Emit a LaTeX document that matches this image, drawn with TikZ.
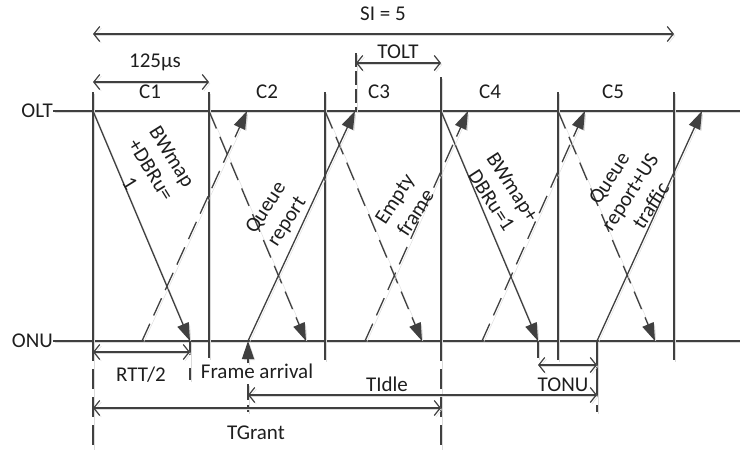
\documentclass[tikz,border=0pt]{standalone}
\usepackage{fontspec}
\setmainfont{Carlito}
\usetikzlibrary{arrows.meta}
\definecolor{ln}{HTML}{404040}
\definecolor{tx}{HTML}{1E1E1E}
\definecolor{shd}{HTML}{DADADA}
\begin{document}
\begin{tikzpicture}[x=1pt,y=-1pt,
  base/.style={draw=ln,line width=1.3pt,
    preaction={draw=shd,transform canvas={shift={(1.6pt,-1.6pt)}}}},
  sig/.style={base,-{Triangle[length=18pt,width=12pt]}},
  dsig/.style={sig,dash pattern=on 19pt off 9pt},
  dimarr/.style={base,line width=1.2pt,{Straight Barb[length=6pt,width=15pt]}-{Straight Barb[length=6pt,width=15pt]}},
  ext/.style={base,line width=1.1pt,dash pattern=on 20pt off 8pt},
  lbl/.style={text=tx,font=\fontsize{21}{25}\selectfont,inner sep=0pt},
  rlbl/.style={lbl,align=center},
]
\useasboundingbox (0,0) rectangle (740,450);

% time axes
\node[lbl,anchor=east] (olt) at (53,111) {OLT};
\node[lbl,anchor=east] (onu) at (53,341) {ONU};
\coordinate (oltE) at (740,111);
\coordinate (onuE) at (740,341);
\draw[base] (olt.east) -- (oltE);
\draw[base] (onu.east) -- (onuE);

% frame boundaries
\coordinate (t0) at (93,92);  \coordinate (b0) at (93,341);  \coordinate (e0) at (93,450);
\coordinate (t1) at (209,92); \coordinate (b1) at (209,358);
\coordinate (t2) at (325,92); \coordinate (b2) at (325,360);
\coordinate (t3) at (441,77); \coordinate (b3) at (441,341); \coordinate (e3) at (441,450);
\coordinate (t4) at (558,92); \coordinate (b4) at (558,360);
\coordinate (t5) at (674,92); \coordinate (b5) at (674,360);
\draw[base] (t0) -- (b0);
\draw[ext] (b0) -- (e0);
\draw[base] (t1) -- (b1);
\draw[base] (t2) -- (b2);
\draw[base] (t3) -- (b3);
\draw[ext] (b3) -- (e3);
\draw[base] (t4) -- (b4);
\draw[base] (t5) -- (b5);

% cycle labels
\node[lbl] (c1) at (150,92) {C1};
\node[lbl] (c2) at (267,92) {C2};
\node[lbl] (c3) at (379,92) {C3};
\node[lbl] (c4) at (490,92) {C4};
\node[lbl] (c5) at (613,92) {C5};

% downstream (OLT -> ONU)
\coordinate (d1s) at (93,111);  \coordinate (d1e) at (190,341);
\coordinate (d2s) at (209,111); \coordinate (d2e) at (306,341);
\coordinate (d3s) at (325,111); \coordinate (d3e) at (422,341);
\coordinate (d4s) at (441,111); \coordinate (d4e) at (538,341);
\coordinate (d5s) at (558,111); \coordinate (d5e) at (655,341);
\draw[sig] (d1s) -- (d1e);
\draw[dsig] (d2s) -- (d2e);
\draw[dsig] (d3s) -- (d3e);
\draw[sig] (d4s) -- (d4e);
\draw[dsig] (d5s) -- (d5e);

% upstream (ONU -> OLT)
\coordinate (u1s) at (142,341); \coordinate (u1e) at (247,111);
\coordinate (u2s) at (248,341); \coordinate (u2e) at (355,111);
\coordinate (u3s) at (365,341); \coordinate (u3e) at (468,111);
\coordinate (u4s) at (482,341); \coordinate (u4e) at (585,111);
\coordinate (u5s) at (597,341); \coordinate (u5e) at (702,111);
\draw[dsig] (u1s) -- (u1e);
\draw[sig] (u2s) -- (u2e);
\draw[dsig] (u3s) -- (u3e);
\draw[dsig] (u4s) -- (u4e);
\draw[sig] (u5s) -- (u5e);

% rotated message labels
\node[rlbl,rotate=-58] (m1) at (151,170) {BWmap\\+DBRu=\\1};
\node[rlbl,rotate=57] (m2) at (277,215) {Queue\\report};
\node[rlbl,rotate=57] (m3) at (405,206) {Empty\\frame};
\node[rlbl,rotate=-57] (m4) at (502,194) {BWmap+\\DBRu=1};
\node[rlbl,rotate=57] (m5) at (630,192) {Queue\\report+US\\traffic};

% SI
\coordinate (si1) at (93,34); \coordinate (si2) at (674,34);
\draw[dimarr] (si1) -- (si2);
\node[lbl] (si) at (383,14) {SI = 5};

% 125us
\coordinate (f1) at (93,82); \coordinate (f2) at (209,82);
\draw[dimarr] (f1) -- (f2);
\node[lbl] (fr) at (155,62) {125µs};

% TOLT
\coordinate (to0) at (356,53); \coordinate (to1) at (356,111);
\draw[ext,dash pattern=on 14pt off 4pt] (to0) -- (to1);
\coordinate (ta) at (356,63); \coordinate (tb) at (441,63);
\draw[dimarr] (ta) -- (tb);
\node[lbl] (tolt) at (398,52) {TOLT};

% RTT/2
\coordinate (r1) at (93,352); \coordinate (r2) at (190,352);
\coordinate (r3) at (190,380);
\draw[ext,dash pattern=on 14pt off 13pt] (d1e) -- (r3);
\draw[dimarr] (r1) -- (r2);
\node[lbl] (rtt) at (141,375) {RTT/2};

% frame arrival
\coordinate (fa0) at (248,363);
\draw[sig] (fa0) -- (u2s);
\node[lbl] (fa) at (257,371) {Frame arrival};
\coordinate (fa1) at (248,384); \coordinate (fa2) at (248,412);
\draw[ext,dash pattern=on 16pt off 5pt] (fa1) -- (fa2);

% TONU
\coordinate (on1) at (538,358); \coordinate (on2) at (597,412);
\draw[ext,dash pattern=on 17pt off 100pt] (d4e) -- (on1);
\draw[ext,dash pattern=on 56pt off 8pt] (u5s) -- (on2);
\coordinate (tn1) at (538,365); \coordinate (tn2) at (597,365);
\draw[dimarr] (tn1) -- (tn2);
\node[lbl] (tonu) at (563,385) {TONU};

% TIdle
\coordinate (ti1) at (248,395); \coordinate (ti2) at (597,395);
\draw[dimarr] (ti1) -- (ti2);
\node[lbl] (tidle) at (387,384) {TIdle};

% TGrant
\coordinate (tg1) at (93,408); \coordinate (tg2) at (441,408);
\draw[dimarr] (tg1) -- (tg2);
\node[lbl] (tgrant) at (256,433) {TGrant};
\end{tikzpicture}
\end{document}
